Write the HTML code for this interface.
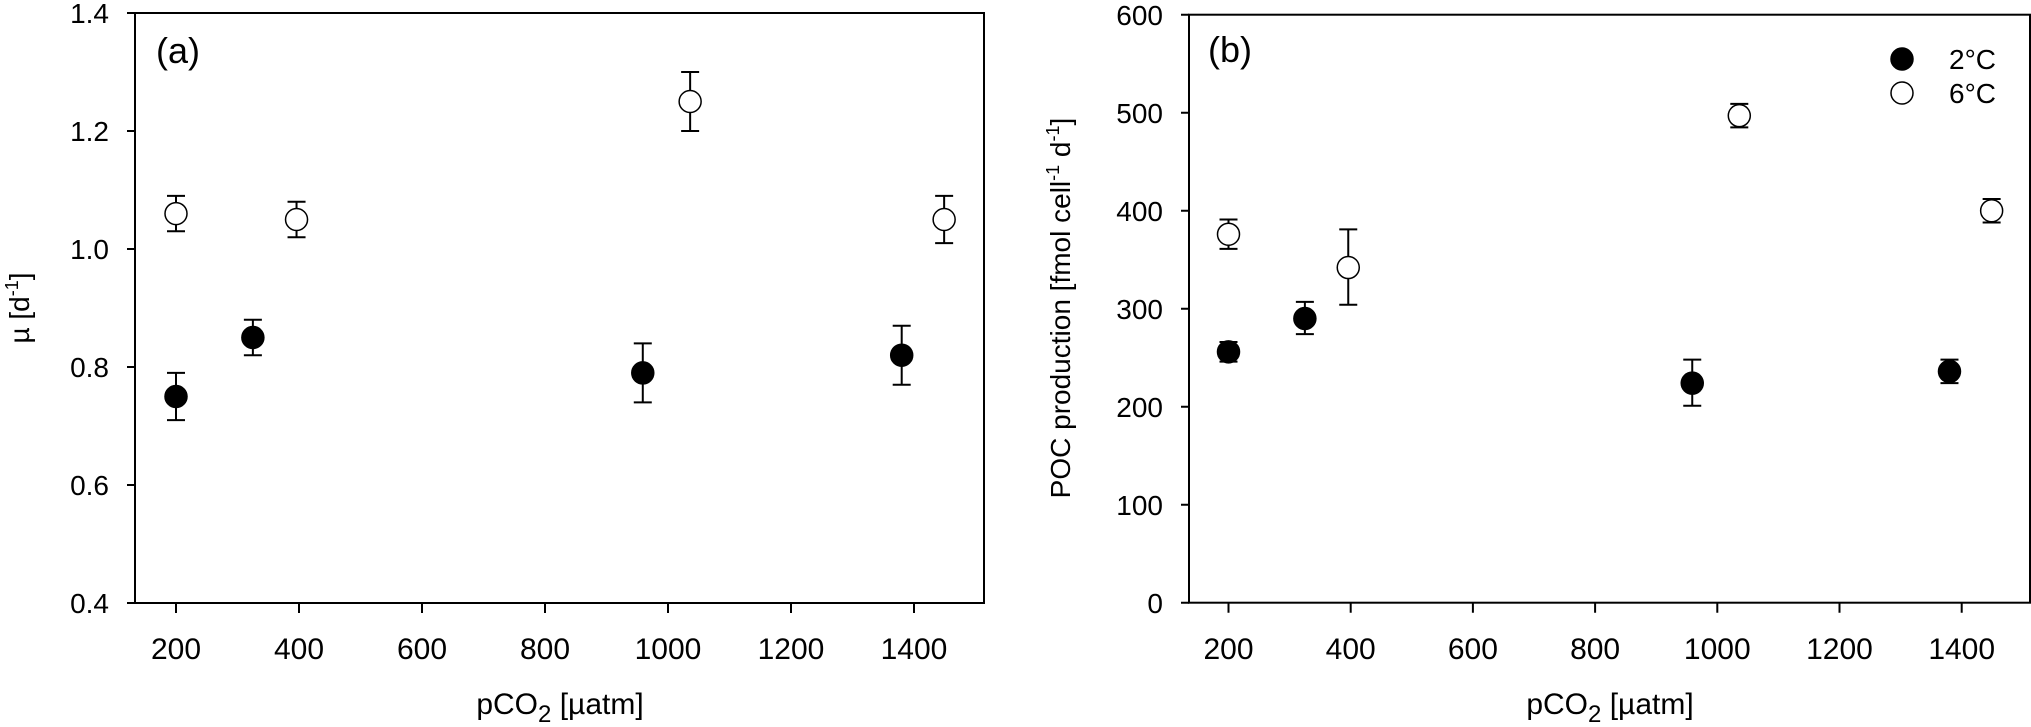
<!DOCTYPE html>
<html><head><meta charset="utf-8"><style>
html,body{margin:0;padding:0;background:#fff}
svg{display:block}
text{font-family:"Liberation Sans",Arial,sans-serif;fill:#000}
</style></head><body>
<svg id="s" width="2031" height="727" viewBox="0 0 2031 727" xmlns="http://www.w3.org/2000/svg">
<g stroke="#000" stroke-width="2" fill="none">
<rect x="135" y="13" width="849" height="590"/>
<rect x="1189" y="14.7" width="841" height="588"/>
<path d="M127 13H135M127 131H135M127 249H135M127 367H135M127 485H135M127 603H135
M176 603V613M299 603V613M422 603V613M545 603V613M668 603V613M791 603V613M914 603V613"/>
<path d="M1181 14.7H1189M1181 112.7H1189M1181 210.7H1189M1181 308.7H1189M1181 406.7H1189M1181 504.7H1189M1181 602.7H1189
M1228.5 602.7V612.7M1350.7 602.7V612.7M1472.9 602.7V612.7M1595.1 602.7V612.7M1717.3 602.7V612.7M1839.5 602.7V612.7M1961.7 602.7V612.7"/>
</g>
<g font-size="28" text-anchor="end">
<text x="109" y="23">1.4</text><text x="109" y="141">1.2</text><text x="109" y="259">1.0</text>
<text x="109" y="377">0.8</text><text x="109" y="495">0.6</text><text x="109" y="613">0.4</text>
<text x="1163" y="25">600</text><text x="1163" y="123">500</text><text x="1163" y="221">400</text>
<text x="1163" y="319">300</text><text x="1163" y="417">200</text><text x="1163" y="515">100</text><text x="1163" y="613">0</text>
</g>
<g font-size="30" text-anchor="middle">
<text x="176" y="659">200</text><text x="299" y="659">400</text><text x="422" y="659">600</text><text x="545" y="659">800</text>
<text x="668" y="659">1000</text><text x="791" y="659">1200</text><text x="914" y="659">1400</text>
<text x="1228.5" y="659">200</text><text x="1350.7" y="659">400</text><text x="1472.9" y="659">600</text><text x="1595.1" y="659">800</text>
<text x="1717.3" y="659">1000</text><text x="1839.5" y="659">1200</text><text x="1961.7" y="659">1400</text>
<text x="560" y="714">pCO<tspan font-size="24" dy="8">2</tspan><tspan dy="-8"> [µatm]</tspan></text>
<text x="1610" y="714">pCO<tspan font-size="24" dy="8">2</tspan><tspan dy="-8"> [µatm]</tspan></text>
</g>
<text font-size="28" text-anchor="middle" transform="translate(29,308) rotate(-90)">µ [d<tspan font-size="18" dy="-11">-1</tspan><tspan dy="11">]</tspan></text>
<text font-size="28" text-anchor="middle" transform="translate(1070,308) rotate(-90)">POC production [fmol cell<tspan font-size="18" dy="-11">-1</tspan><tspan dy="11"> d</tspan><tspan font-size="18" dy="-11">-1</tspan><tspan dy="11">]</tspan></text>
<text x="156" y="63" font-size="36">(a)</text>
<text x="1208" y="62" font-size="36">(b)</text>
<circle cx="1902" cy="59" r="11" fill="#000" stroke="#000" stroke-width="1.5"/>
<circle cx="1902" cy="93" r="11" fill="#fff" stroke="#000" stroke-width="1.5"/>
<text x="1949" y="69" font-size="28">2°C</text>
<text x="1949" y="103" font-size="28">6°C</text>
<g id="pts"></g>
</svg>
<script>
var g=document.getElementById('pts'),h='';
function L(x,v){return [176+(x-200)*0.615, 13+(1.4-v)*590];}
function R(x,v){return [1228.5+(x-200)*0.611, 602.7-v*0.98];}
function pt(f,x,v,lo,hi,fill){
 var c=f(x,v),a=f(x,lo),b=f(x,hi),X=c[0];
 h+='<path d="M'+X+' '+a[1]+'V'+b[1]+'M'+(X-9)+' '+a[1]+'H'+(X+9)+'M'+(X-9)+' '+b[1]+'H'+(X+9)+'" stroke="#000" stroke-width="2" fill="none"/>';
 h+='<circle cx="'+X+'" cy="'+c[1]+'" r="11" fill="'+fill+'" stroke="#000" stroke-width="1.5"/>';
}
[[200,1.06,1.03,1.09],[396,1.05,1.02,1.08],[1036,1.25,1.20,1.30],[1449,1.05,1.01,1.09]].forEach(function(d){pt(L,d[0],d[1],d[2],d[3],'#fff')});
[[200,0.75,0.71,0.79],[325,0.85,0.82,0.88],[959,0.79,0.74,0.84],[1380,0.82,0.77,0.87]].forEach(function(d){pt(L,d[0],d[1],d[2],d[3],'#000')});
[[200,376,361,391],[396,342,304,381],[1036,497,485,509],[1449,400,388,412]].forEach(function(d){pt(R,d[0],d[1],d[2],d[3],'#fff')});
[[200,256,246,266],[325,290,274,307],[959,224,201,248],[1380,236,224,248]].forEach(function(d){pt(R,d[0],d[1],d[2],d[3],'#000')});
g.innerHTML=h;
</script>
</body></html>
